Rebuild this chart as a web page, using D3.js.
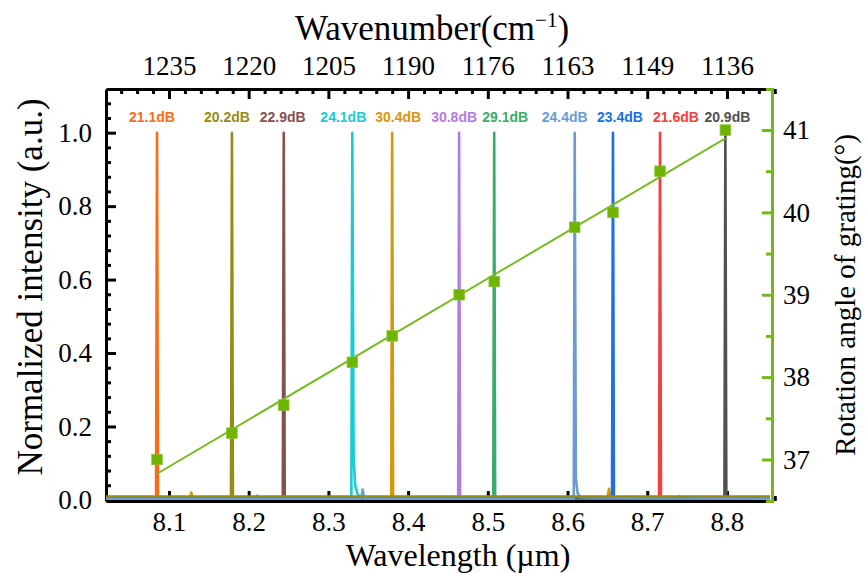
<!DOCTYPE html>
<html>
<head>
<meta charset="utf-8">
<script src="https://cdn.jsdelivr.net/npm/d3@7"></script>
<style>
  body { margin: 0; background: #ffffff; }
  svg { display: block; }
</style>
</head>
<body>
<svg id="chart" width="866" height="573"></svg>
<script>
// ---- data ----------------------------------------------------------------
// Peak wavelengths (µm) of the tuned emission lines
const peakWavelength = [8.085, 8.179, 8.244, 8.330, 8.380, 8.464, 8.508, 8.609, 8.657, 8.716, 8.798];
// Side-mode suppression of each line (dB)
const peakSNR = [21.1, 20.2, 22.9, 24.1, 30.4, 30.8, 29.1, 24.4, 23.4, 21.6, 20.9];
// Grating rotation angle (degrees) used for each line
const gratingAngle = [37.0, 37.32, 37.66, 38.18, 38.5, 39.0, 39.16, 39.82, 40.0, 40.5, 41.0];

// Normalized spectra, [wavelength µm, intensity]
const spectrum2111 = [[8.02,0.005],[8.0838,0.005],[8.085,1.0],[8.0862,0.005],[8.86,0.005]];
const spectrum2021 = [[8.02,0.009],[8.1778,0.009],[8.179,1.0],[8.1802,0.009],[8.86,0.009]];
const spectrum2291 = [[8.02,0.005],[8.2428,0.005],[8.244,1.0],[8.2452,0.005],[8.86,0.005]];
const spectrum2411 = [[8.02,0.005],[8.3288,0.005],[8.330,1.0],[8.3316,0.12],[8.3335,0.04],[8.337,0.014],[8.342,0.005],[8.86,0.005]];
const spectrum3041 = [[8.02,0.005],[8.126,0.005],[8.128,0.02],[8.130,0.005],[8.3788,0.005],[8.380,1.0],[8.3812,0.005],[8.650,0.005],[8.652,0.03],[8.654,0.005],[8.86,0.005]];
const spectrum3081 = [[8.02,0.005],[8.209,0.005],[8.2105,0.012],[8.212,0.005],[8.4628,0.005],[8.464,1.0],[8.4652,0.005],[8.739,0.005],[8.7405,0.01],[8.742,0.005],[8.86,0.005]];
const spectrum2911 = [[8.02,0.005],[8.5068,0.005],[8.508,1.0],[8.5092,0.005],[8.86,0.005]];
const spectrum2441 = [[8.02,0.003],[8.341,0.003],[8.343,0.028],[8.345,0.003],[8.6078,0.003],[8.609,1.0],[8.6104,0.06],[8.6125,0.02],[8.616,0.007],[8.86,0.003]];
const spectrum2341 = [[8.02,0.005],[8.6558,0.005],[8.657,1.0],[8.6582,0.005],[8.86,0.005]];
const spectrum2161 = [[8.02,0.005],[8.7148,0.005],[8.716,1.0],[8.7172,0.005],[8.86,0.005]];
const spectrum2091 = [[8.02,0.005],[8.7968,0.005],[8.798,1.0],[8.7992,0.005],[8.86,0.005]];

const spectra = [spectrum2111, spectrum2021, spectrum2291, spectrum2411, spectrum3041, spectrum3081,
                 spectrum2911, spectrum2441, spectrum2341, spectrum2161, spectrum2091];

// Axis ticks
const wavelengthTicks = [8.1, 8.2, 8.3, 8.4, 8.5, 8.6, 8.7, 8.8];
const wavenumberLabels = ["1235", "1220", "1205", "1190", "1176", "1163", "1149", "1136"];
const intensityTicks = [0.0, 0.2, 0.4, 0.6, 0.8, 1.0];
const angleTicks = [37, 38, 39, 40, 41];

// ---- styling / layout ----------------------------------------------------
const peakColors = ["#ff6a14", "#938c15", "#845050", "#19cbd2", "#d4980d", "#b07ce0",
                    "#3aab6b", "#6a9bd1", "#1d6fe6", "#f0413f", "#515151"];
const layerOrder = [0, 2, 3, 4, 5, 6, 8, 9, 10, 7, 1];      // baseline of line 2 sits on top
const labelNudge = [-5, -5, -1, -9, 6, -5, 11, -10, 7, 16, 2]; // px, keeps dB labels apart
const angleColor = "#74b816";
const serif = "'Liberation Serif', 'Times New Roman', serif";
const sans = "'Liberation Sans', Arial, sans-serif";

const plot = { left: 106, right: 772, top: 89, bottom: 501 };

const svg = d3.select("#chart");

const x = d3.scaleLinear().domain([8.021, 8.8565]).range([plot.left, plot.right]);
const y = d3.scaleLinear().domain([-0.003, 1.119]).range([plot.bottom, plot.top]);
const yAngle = d3.scaleLinear().domain([36.496, 41.498]).range([plot.bottom, plot.top]);

// ---- axes ------------------------------------------------------------------
function styleAxis(g, color, fontSize) {
  g.selectAll("path.domain").attr("stroke", color).attr("stroke-width", 3);
  g.selectAll(".tick line").attr("stroke", color).attr("stroke-width", 3);
  g.selectAll(".tick text").attr("fill", "#000").style("font-family", serif).style("font-size", fontSize + "px");
}

const minorWave = d3.range(8.04, 8.86, 0.02).filter(v => Math.abs(v * 10 - Math.round(v * 10)) > 1e-6);
const minorInt = d3.range(0.04, 1.1, 0.04).filter(v => Math.abs(v * 5 - Math.round(v * 5)) > 1e-6);
const minorAngle = [36.5, 37.5, 38.5, 39.5, 40.5];

// bottom
svg.append("g").attr("transform", `translate(0,${plot.bottom})`)
  .call(d3.axisBottom(x).tickValues(minorWave).tickSize(-5).tickFormat(""))
  .call(g => { g.select(".domain").remove(); styleAxis(g, "#000", 27); });
svg.append("g").attr("transform", `translate(0,${plot.bottom})`)
  .call(d3.axisBottom(x).tickValues(wavelengthTicks).tickSizeInner(-10).tickSizeOuter(0)
        .tickPadding(10.5).tickFormat(d3.format(".1f")))
  .call(g => styleAxis(g, "#000", 27));

// top (wavenumber)
svg.append("g").attr("transform", `translate(0,${plot.top})`)
  .call(d3.axisTop(x).tickValues(minorWave).tickSize(-5).tickFormat(""))
  .call(g => { g.select(".domain").remove(); styleAxis(g, "#000", 27); });
svg.append("g").attr("transform", `translate(0,${plot.top})`)
  .call(d3.axisTop(x).tickValues(wavelengthTicks).tickSizeInner(-10).tickSizeOuter(0)
        .tickPadding(14).tickFormat((d, i) => wavenumberLabels[i]))
  .call(g => styleAxis(g, "#000", 27));

// left (intensity)
svg.append("g").attr("transform", `translate(${plot.left},0)`)
  .call(d3.axisLeft(y).tickValues(minorInt).tickSize(-5).tickFormat(""))
  .call(g => { g.select(".domain").remove(); styleAxis(g, "#000", 27); });
svg.append("g").attr("transform", `translate(${plot.left},0)`)
  .call(d3.axisLeft(y).tickValues(intensityTicks).tickSizeInner(-10).tickSizeOuter(0)
        .tickPadding(14).tickFormat(d3.format(".1f")))
  .call(g => styleAxis(g, "#000", 27));

// right (grating angle)
svg.append("g").attr("transform", `translate(${plot.right},0)`)
  .call(d3.axisRight(yAngle).tickValues(minorAngle).tickSize(-6).tickFormat(""))
  .call(g => { g.select(".domain").remove(); styleAxis(g, angleColor, 27); });
svg.append("g").attr("transform", `translate(${plot.right},0)`)
  .call(d3.axisRight(yAngle).tickValues(angleTicks).tickSizeInner(-10).tickSizeOuter(-6)
        .tickPadding(11).tickFormat(d3.format("d")))
  .call(g => styleAxis(g, angleColor, 27));

// ---- spectra -------------------------------------------------------------
svg.append("defs").append("clipPath").attr("id", "plot-clip")
  .append("rect").attr("x", plot.left).attr("y", plot.top)
  .attr("width", plot.right - plot.left - 2).attr("height", plot.bottom - plot.top);

const line = d3.line().x(d => x(d[0])).y(d => y(d[1]));

svg.append("g").attr("clip-path", "url(#plot-clip)")
  .selectAll("path")
  .data(layerOrder)
  .join("path")
  .attr("d", i => line(spectra[i]))
  .attr("fill", "none")
  .attr("stroke", i => peakColors[i])
  .attr("stroke-width", 2.6)
  .attr("stroke-linejoin", "round");

// ---- grating angle: linear fit and points --------------------------------
const mx = d3.mean(peakWavelength), my = d3.mean(gratingAngle);
const slope = d3.sum(peakWavelength, (v, i) => (v - mx) * (gratingAngle[i] - my)) /
              d3.sum(peakWavelength, v => (v - mx) * (v - mx));
const fit = v => my + slope * (v - mx);
const fitEnds = d3.extent(peakWavelength);

svg.append("line")
  .attr("x1", x(fitEnds[0])).attr("y1", yAngle(fit(fitEnds[0])))
  .attr("x2", x(fitEnds[1])).attr("y2", yAngle(fit(fitEnds[1])))
  .attr("stroke", "#78ba22").attr("stroke-width", 2);

const sq = 10.5;
svg.append("g").selectAll("rect")
  .data(peakWavelength)
  .join("rect")
  .attr("x", d => x(d) - sq / 2)
  .attr("y", (d, i) => yAngle(gratingAngle[i]) - sq / 2)
  .attr("width", sq).attr("height", sq)
  .attr("fill", "#6fb400")
  .attr("stroke", "#86c530").attr("stroke-width", 0.8);

// ---- dB labels -----------------------------------------------------------
svg.append("g").selectAll("text")
  .data(peakSNR)
  .join("text")
  .attr("x", (d, i) => x(peakWavelength[i]) + labelNudge[i])
  .attr("y", 122)
  .attr("text-anchor", "middle")
  .attr("fill", (d, i) => peakColors[i])
  .style("font-family", sans)
  .style("font-weight", "bold")
  .style("font-size", "14px")
  .text(d => d.toFixed(1) + "dB");

// ---- axis titles ---------------------------------------------------------
const topTitle = svg.append("text")
  .attr("x", 432).attr("y", 40)
  .attr("text-anchor", "middle")
  .style("font-family", serif).style("font-size", "35px");
topTitle.append("tspan").text("Wavenumber(cm");
topTitle.append("tspan").attr("dy", -13).style("font-size", "21px").text("\u22121");
topTitle.append("tspan").attr("dy", 13).text(")");

svg.append("text")
  .attr("x", 458).attr("y", 566)
  .attr("text-anchor", "middle")
  .style("font-family", serif).style("font-size", "32px")
  .text("Wavelength (\u00b5m)");

svg.append("text")
  .attr("transform", "translate(42,287) rotate(-90)")
  .attr("text-anchor", "middle")
  .style("font-family", serif).style("font-size", "35px")
  .text("Normalized intensity (a.u.)");

svg.append("text")
  .attr("transform", "translate(855,295) rotate(-90)")
  .attr("text-anchor", "middle")
  .style("font-family", serif).style("font-size", "29px")
  .text("Rotation angle of grating(\u00b0)");
</script>
</body>
</html>
